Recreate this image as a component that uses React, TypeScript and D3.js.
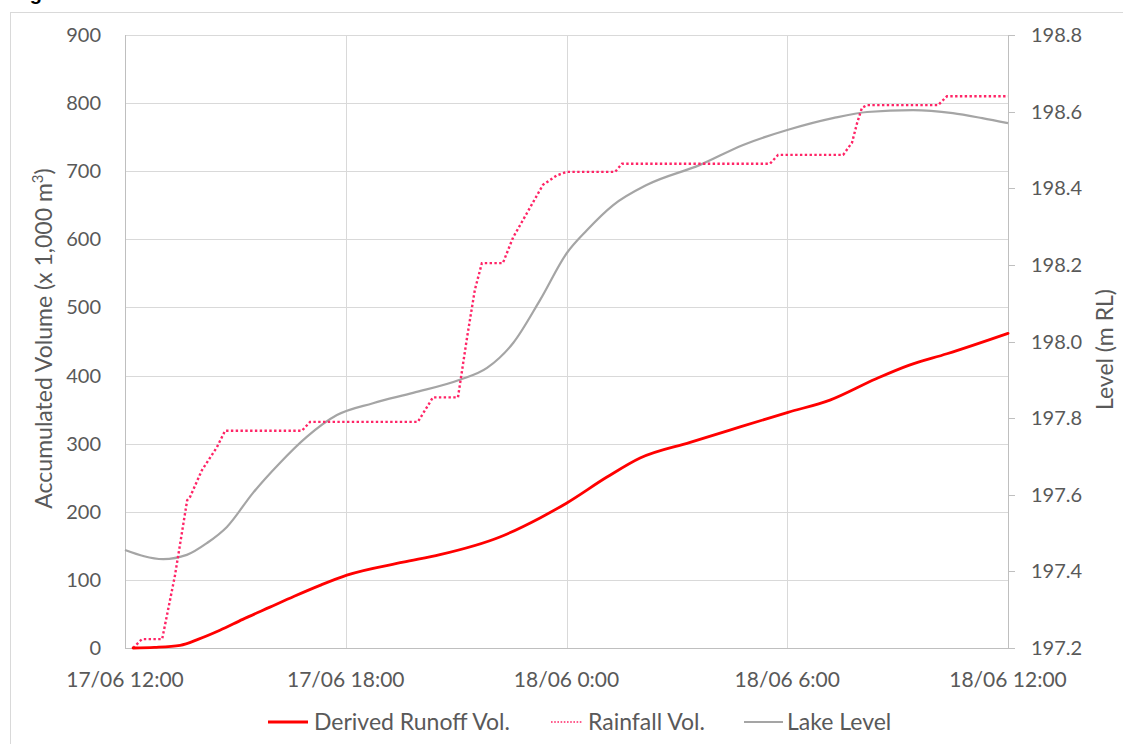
import React from "react";
import * as d3 from "d3";

// hours after 17/06 12:00
const runoffHours = [0.22, 0.8, 1.5, 2.0, 2.58, 3.2, 3.94, 4.6, 5.3, 6.03, 7.56, 8.56, 10.19, 11.28, 12.01, 13.1, 14.0, 15.36, 16.44, 18.02, 19.16, 20.4, 21.3, 22.34, 24];
const runoffVol = [0, 1, 4, 13, 26, 42, 60, 76, 92, 107, 126, 137, 163, 191, 213, 251, 279, 302, 320, 346, 364, 395, 415, 432, 462];

const rainHours = [0.22, 0.46, 1.01, 1.36, 1.69, 1.77, 2.09, 2.5, 2.72, 4.81, 5.03, 7.96, 8.37, 9.05, 9.3, 9.51, 9.7, 10.27, 10.55, 10.93, 11.36, 11.74, 12.01, 13.32, 13.51, 17.53, 17.75, 19.52, 19.76, 19.9, 20.03, 20.17, 22.1, 22.34, 24];
const rainVol = [0, 13, 13, 107, 217, 222, 261, 295, 319, 319, 332, 332, 368, 368, 457, 526, 565, 565, 603, 639, 680, 694, 699, 699, 711, 711, 724, 724, 742, 771, 793, 797, 797, 810, 810];

const lakeHours = [0, 1.04, 1.68, 2.23, 2.77, 3.48, 4.21, 4.94, 5.76, 6.74, 7.83, 9.1, 9.84, 10.55, 11.28, 12.01, 12.56, 13.27, 14.19, 15.63, 16.8, 18.0, 19.24, 20.17, 21.42, 22.5, 23.3, 24];
const lakeLevel = [197.456, 197.432, 197.443, 197.474, 197.516, 197.605, 197.683, 197.751, 197.808, 197.839, 197.866, 197.9, 197.931, 197.996, 198.108, 198.231, 198.291, 198.356, 198.409, 198.461, 198.513, 198.552, 198.583, 198.599, 198.604, 198.596, 198.583, 198.57];

const volTicks = [0, 100, 200, 300, 400, 500, 600, 700, 800, 900];
const levelTicks = [197.2, 197.4, 197.6, 197.8, 198.0, 198.2, 198.4, 198.6, 198.8];
const timeTickHours = [0, 6, 12, 18, 24];

const legendItems = ["Derived Runoff Vol.", "Rainfall Vol.", "Lake Level"];

const START = new Date(2016, 5, 17, 12, 0);
const toDate = (h: number) => new Date(START.getTime() + h * 3600 * 1000);

export default function App() {
  const W = 1123, H = 744;
  const left = 125, right = 1008, top = 35, bottom = 648;
  const font = "Lato, 'Open Sans', sans-serif";
  const textCol = "#595959";

  const x = d3.scaleTime().domain([toDate(0), toDate(24)]).range([left, right]);
  const yL = d3.scaleLinear().domain([0, 900]).range([bottom, top]);
  const yR = d3.scaleLinear().domain([197.2, 198.8]).range([bottom, top]);
  const fmt = d3.timeFormat("%d/%m %-H:%M");

  const runoffPath = d3.line<number>().x((_, i) => x(toDate(runoffHours[i]))).y((d) => yL(d)).curve(d3.curveMonotoneX)(runoffVol) || "";
  const rainPath = d3.line<number>().x((_, i) => x(toDate(rainHours[i]))).y((d) => yL(d)).curve(d3.curveLinear)(rainVol) || "";
  const lakePath = d3.line<number>().x((_, i) => x(toDate(lakeHours[i]))).y((d) => yR(d)).curve(d3.curveMonotoneX)(lakeLevel) || "";

  const legendX = [268, 551, 744];
  const legendTextX = [314, 588, 787];
  const legendLen = [40, 32, 39];
  const legendY = 722;

  return (
    <svg width={W} height={H} style={{ position: "absolute", left: 0, top: 0, background: "#fff" }} fontFamily={font}>
      <text x={12} y={0} fontFamily="Arial, 'Liberation Sans', sans-serif" fontWeight="bold" fontSize={20} fill="#000">Figure 5: Cumulative Runoff and Rainfall Volume</text>
      <rect x={10.5} y={12.5} width={1120} height={740} fill="#fff" stroke="#d9d9d9" />
      {/* horizontal gridlines */}
      {volTicks.map((t) => (
        <line key={"g" + t} x1={left} x2={right} y1={Math.round(yL(t)) + 0.5} y2={Math.round(yL(t)) + 0.5} stroke="#d9d9d9" strokeWidth={1} />
      ))}
      {timeTickHours.slice(1, -1).map((h) => (
        <line key={"v" + h} x1={Math.round(x(toDate(h))) + 0.5} x2={Math.round(x(toDate(h))) + 0.5} y1={top} y2={bottom} stroke="#d9d9d9" strokeWidth={1} />
      ))}
      {/* axes lines */}
      <line x1={left + 0.5} x2={left + 0.5} y1={top} y2={bottom} stroke="#bfbfbf" />
      <line x1={right + 0.5} x2={right + 0.5} y1={top} y2={bottom} stroke="#bfbfbf" />
      <line x1={left} x2={right} y1={bottom + 0.5} y2={bottom + 0.5} stroke="#bfbfbf" />
      {levelTicks.map((t) => (
        <line key={"rt" + t} x1={right} x2={right + 7} y1={Math.round(yR(t)) + 0.5} y2={Math.round(yR(t)) + 0.5} stroke="#bfbfbf" />
      ))}
      {/* tick labels */}
      {volTicks.map((t) => (
        <text key={"lt" + t} x={101} y={yL(t)} dy="0.35em" textAnchor="end" fontSize={20} fill={textCol}>{t}</text>
      ))}
      {levelTicks.map((t) => (
        <text key={"rl" + t} x={1031} y={yR(t)} dy="0.35em" textAnchor="start" fontSize={20} fill={textCol}>{t.toFixed(1)}</text>
      ))}
      {timeTickHours.map((h) => (
        <text key={"xt" + h} x={x(toDate(h))} y={687} textAnchor="middle" fontSize={21} fill={textCol}>{fmt(toDate(h))}</text>
      ))}
      {/* axis titles */}
      <text transform={`translate(52,${(top + bottom) / 2 - 3}) rotate(-90)`} textAnchor="middle" fontSize={23} fill={textCol}>
        Accumulated Volume (x 1,000 m<tspan dy={-9} fontSize={15}>3</tspan><tspan dy={9}>)</tspan>
      </text>
      <text transform={`translate(1113,${(top + bottom) / 2 + 8}) rotate(-90)`} textAnchor="middle" fontSize={23} fill={textCol}>Level (m RL)</text>
      {/* series */}
      <path d={lakePath} fill="none" stroke="#a5a5a5" strokeWidth={2.2} />
      <path d={rainPath} fill="none" stroke="#ff2466" strokeWidth={2.4} strokeDasharray="2.4 2.4" />
      <path d={runoffPath} fill="none" stroke="#ff0000" strokeWidth={2.8} strokeLinecap="round" />
      {/* legend */}
      <line x1={legendX[0]} x2={legendX[0] + legendLen[0]} y1={legendY} y2={legendY} stroke="#ff0000" strokeWidth={2.8} />
      <line x1={legendX[1]} x2={legendX[1] + legendLen[1]} y1={legendY} y2={legendY} stroke="#ff2466" strokeWidth={1.6} strokeDasharray="1.6 1.6" />
      <line x1={legendX[2]} x2={legendX[2] + legendLen[2]} y1={legendY} y2={legendY} stroke="#a5a5a5" strokeWidth={2} />
      {legendItems.map((s, i) => (
        <text key={s} x={legendTextX[i]} y={legendY} dy="0.35em" fontSize={23} fill={textCol}>{s}</text>
      ))}
    </svg>
  );
}
